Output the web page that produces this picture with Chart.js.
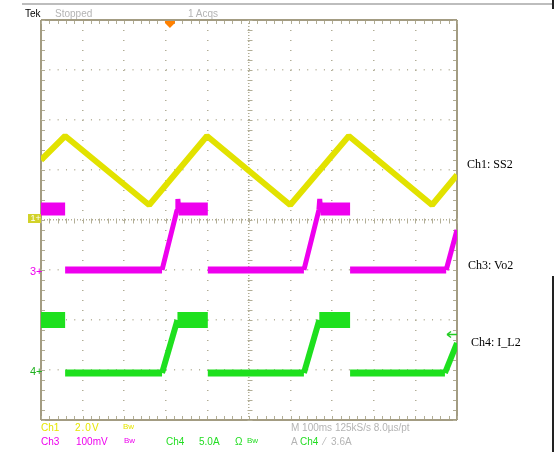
<!DOCTYPE html>
<html>
<head>
<meta charset="utf-8">
<title>Scope capture</title>
<script src="https://cdn.jsdelivr.net/npm/chart.js@4.4.1/dist/chart.umd.min.js"></script>
<style>
  body { margin: 0; background: #fff; }
  #wrap { position: relative; width: 557px; height: 455px; overflow: hidden; background: #fff; }
  #scope { position: absolute; left: 0; top: 0; }
  .t { position: absolute; white-space: nowrap; font-family: 'Liberation Sans', Arial, sans-serif; font-size: 10px; line-height: 12px; color: #b4b4b4; }
  .bw { font-size: 8px; }
  .lbl { position: absolute; white-space: nowrap; font-family: 'Liberation Serif', 'Times New Roman', serif; font-size: 12px; line-height: 14px; color: #000; }
  .y { color: #e6e600; }
  .m { color: #ee00ee; }
  .g { color: #22dd22; }
  .rule { position: absolute; }
</style>
</head>
<body>
<div id="wrap">
  <canvas id="scope" width="557" height="455"></canvas>

  <div class="rule" style="left:22px;top:3px;width:531px;height:0;border-top:2px solid #bdbdbd;"></div>
  <div class="rule" style="left:552px;top:0;width:0;height:9px;border-left:2px solid #222;"></div>
  <div class="rule" style="left:552px;top:276px;width:0;height:176px;border-left:2px solid #222;"></div>

  <div class="t" style="left:25px;top:8px;color:#000;">Tek</div>
  <div class="t" style="left:55px;top:8px;">Stopped</div>
  <div class="t" style="left:188px;top:8px;">1 Acqs</div>

  <div class="t" style="left:28px;top:214px;width:13px;height:9px;line-height:9px;font-size:9px;background:#d2d22a;color:#fff;">&nbsp;1+</div>
  <div class="t m" style="left:30px;top:265px;font-size:11px;">3+</div>
  <div class="t g" style="left:30px;top:365px;font-size:11px;color:#1fb01f;">4+</div>

  <div class="t y" style="left:41px;top:422px;">Ch1</div>
  <div class="t y" style="left:75px;top:422px;letter-spacing:1px;">2.0V</div>
  <div class="t y bw" style="left:123px;top:421px;">Bw</div>
  <div class="t m" style="left:41px;top:436px;">Ch3</div>
  <div class="t m" style="left:76px;top:436px;">100mV</div>
  <div class="t m bw" style="left:124px;top:435px;">Bw</div>
  <div class="t g" style="left:166px;top:436px;">Ch4</div>
  <div class="t g" style="left:199px;top:436px;">5.0A</div>
  <div class="t g" style="left:235px;top:436px;">Ω</div>
  <div class="t g bw" style="left:247px;top:435px;">Bw</div>
  <div class="t" style="left:291px;top:422px;">M 100ms 125kS/s 8.0µs/pt</div>
  <div class="t" style="left:291px;top:436px;">A <span class="g">Ch4</span> &nbsp;⁄&nbsp; 3.6A</div>

  <div class="lbl" style="left:467px;top:157px;">Ch1: SS2</div>
  <div class="lbl" style="left:468px;top:258px;">Ch3: Vo2</div>
  <div class="lbl" style="left:471px;top:335px;">Ch4: I_L2</div>
</div>

<script>
// horizontal: 100 ms/div over 10 divisions
const timeDivs = 10;
const msPerDiv = 100;

// Ch1 SS2 soft-start ramp (V)
const ch1Time = [0, 58, 260, 399, 599, 740, 940, 1000];
const ch1Volts = [2.4, 3.36, 0.6, 3.36, 0.6, 3.36, 0.6, 1.8];

// Ch3 Vo2 output (mV)
const ch3Time = [0, 58, 58, 291, 327, 329, 331, 401, 401, 632, 668, 670, 672, 743, 743, 974, 1000];
const ch3MilliVolts = [122, 122, 0, 0, 120, 142, 122, 122, 0, 0, 120, 142, 122, 122, 0, 0, 80];

// Ch4 I_L2 inductor current (A)
const ch4Time = [0, 58, 58, 291, 328, 401, 401, 632, 669, 743, 743, 971, 1000];
const ch4Amps = [5, 5, -0.3, -0.3, 5, 5, -0.3, -0.3, 5, 5, -0.3, -0.3, 2.7];

// vertical settings: units per division and ground marker (in divisions from centre)
const ch1Scale = 2.0, ch1Ground = 0;
const ch3Scale = 100, ch3Ground = -1;
const ch4Scale = 5.0, ch4Ground = -3;

// trigger: position in ms, level on Ch4 in A
const triggerTime = 310;
const triggerLevel = 3.6;

const toDivs = (times, values, scale, ground) =>
    times.map((t, i) => ({ x: t, y: ground + values[i] / scale }));

// thick noisy band on the high level, thinner on the low level, faint on the fast edges
const traceStyle = (color, ground, hi, lo, ramp) => ({
    borderWidth: ctx => {
        const a = ctx.p0.parsed, b = ctx.p1.parsed;
        if (a.x === b.x) return 1;
        if (a.y === b.y) return a.y > ground + 0.5 ? hi : lo;
        return ramp;
    },
    borderColor: ctx => (ctx.p0.parsed.x === ctx.p1.parsed.x ? 'rgba(0,0,0,0)' : color)
});

const frameColor = '#a39c82';
const dotColor = '#b2ae96';

const graticule = {
    id: 'graticule',
    beforeDatasetsDraw(chart) {
        const { ctx, chartArea: a, scales: { x, y } } = chart;
        const xc = Math.round(x.getPixelForValue(timeDivs * msPerDiv / 2)) + 0.5;
        const yc = Math.round(y.getPixelForValue(0)) + 0.5;
        ctx.save();
        ctx.strokeStyle = dotColor;
        ctx.lineWidth = 1;
        ctx.beginPath();
        for (let v = 0; v <= timeDivs * msPerDiv; v += msPerDiv / 5) {
            const px = Math.round(x.getPixelForValue(v)) + 0.5;
            ctx.moveTo(px, a.top + 1); ctx.lineTo(px, a.top + 4);
            ctx.moveTo(px, a.bottom - 1); ctx.lineTo(px, a.bottom - 4);
            ctx.moveTo(px, yc - 2); ctx.lineTo(px, yc + 3);
        }
        for (let v = -4; v <= 4.001; v += 0.2) {
            const py = Math.round(y.getPixelForValue(v)) + 0.5;
            ctx.moveTo(a.left + 1, py); ctx.lineTo(a.left + 4, py);
            ctx.moveTo(a.right - 1, py); ctx.lineTo(a.right - 4, py);
            ctx.moveTo(xc - 2, py); ctx.lineTo(xc + 3, py);
        }
        ctx.stroke();
        ctx.restore();
    },
    afterDraw(chart) {
        const { ctx, chartArea: a, scales: { x, y } } = chart;
        ctx.save();
        // trigger position flag
        const tx = x.getPixelForValue(triggerTime);
        ctx.fillStyle = '#ff8000';
        ctx.beginPath();
        ctx.moveTo(tx - 5, a.top + 1);
        ctx.lineTo(tx + 5, a.top + 1);
        ctx.lineTo(tx + 5, a.top + 3);
        ctx.lineTo(tx, a.top + 8);
        ctx.lineTo(tx - 5, a.top + 3);
        ctx.closePath();
        ctx.fill();
        // trigger level arrow on the right edge
        const ty = Math.round(y.getPixelForValue(ch4Ground + triggerLevel / ch4Scale)) + 0.5;
        ctx.strokeStyle = '#22cc22';
        ctx.lineWidth = 1.5;
        ctx.beginPath();
        ctx.moveTo(a.right - 10, ty); ctx.lineTo(a.right, ty);
        ctx.moveTo(a.right - 10, ty); ctx.lineTo(a.right - 6, ty - 3);
        ctx.moveTo(a.right - 10, ty); ctx.lineTo(a.right - 6, ty + 3);
        ctx.stroke();
        ctx.restore();
    }
};

new Chart(document.getElementById('scope'), {
    type: 'line',
    data: {
        datasets: [
            {
                label: 'Ch3',
                data: toDivs(ch3Time, ch3MilliVolts, ch3Scale, ch3Ground),
                borderColor: '#ee00ee',
                segment: traceStyle('#ee00ee', ch3Ground, 13, 7, 5)
            },
            {
                label: 'Ch4',
                data: toDivs(ch4Time, ch4Amps, ch4Scale, ch4Ground),
                borderColor: '#1ee01e',
                segment: traceStyle('#1ee01e', ch4Ground, 16, 7, 6)
            },
            {
                label: 'Ch1',
                data: toDivs(ch1Time, ch1Volts, ch1Scale, ch1Ground),
                borderColor: '#e2e200',
                borderWidth: 6
            }
        ]
    },
    options: {
        responsive: false,
        animation: false,
        layout: { padding: { left: 41, right: 100, top: 20, bottom: 35 } },
        elements: {
            point: { radius: 0 },
            line: { tension: 0, borderCapStyle: 'butt', borderJoinStyle: 'bevel', fill: false }
        },
        plugins: { legend: { display: false }, tooltip: { enabled: false } },
        scales: {
            x: {
                type: 'linear',
                min: 0,
                max: timeDivs * msPerDiv,
                ticks: { display: false, stepSize: msPerDiv },
                grid: {
                    drawTicks: false,
                    color: c => (c.index === 0 || c.index === timeDivs ? frameColor : dotColor),
                    lineWidth: c => (c.index === 0 || c.index === timeDivs ? 2 : 1.5)
                },
                border: {
                    display: false,
                    dash: c => (c.index === 0 || c.index === timeDivs ? [] : c.index === timeDivs / 2 ? [1, 2] : [1, 9])
                }
            },
            y: {
                min: -4,
                max: 4,
                ticks: { display: false, stepSize: 1 },
                grid: {
                    drawTicks: false,
                    color: c => (c.index === 0 || c.index === 8 ? frameColor : dotColor),
                    lineWidth: c => (c.index === 0 || c.index === 8 ? 2 : 1.5)
                },
                border: {
                    display: false,
                    dash: c => (c.index === 0 || c.index === 8 ? [] : c.index === 4 ? [1, 2] : [1, 7.32])
                }
            }
        }
    },
    plugins: [graticule]
});
</script>
</body>
</html>
